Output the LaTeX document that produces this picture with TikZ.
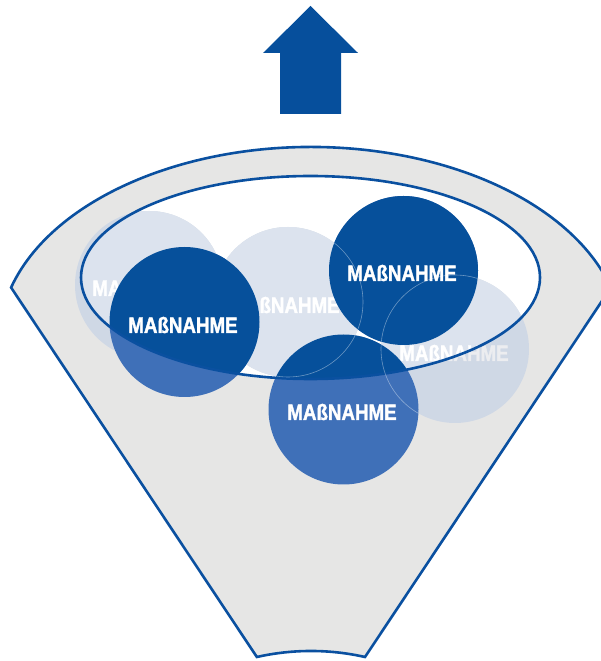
\documentclass[tikz,border=0pt]{standalone}
\usepackage{fontspec}
\newfontfamily\condfont{Liberation Sans}[FakeStretch=0.84,FakeBold=1.6]
\definecolor{fblue}{RGB}{10,80,160}
\definecolor{arrowblue}{RGB}{6,79,156}
\definecolor{funnelgray}{RGB}{230,230,229}
\definecolor{darkin}{RGB}{6,80,155}
\definecolor{darkout}{RGB}{63,112,184}
\definecolor{lightin}{RGB}{220,227,238}
\definecolor{lightout}{RGB}{207,216,229}
\definecolor{lighttext}{RGB}{236,237,240}
\newcommand\circleset[5]{%
  \node[disc, fill=#2, minimum size=148] (c1#5) at (149,376) {};
  \node[lbl, text=#3] (t1#5) at (147,373) {MAßNAHME};
  \node[disc, fill=#2] (c3#5) at (288,359) {};
  \node[lbl, text=#3] (t3#5) at (285,356) {MAßNAHME};
  \node[disc, fill=#2, minimum size=148] (c5#5) at (455,312) {};
  \node[lbl, text=#3] (t5#5) at (454,308) {MAßNAHME};
  \node[disc, fill=#1] (c2#5) at (184.5,339) {};
  \node[lbl, text=#4] (t2#5) at (183,336) {MAßNAHME};
  \node[disc, fill=#1, minimum size=149] (c4#5) at (403.5,390.5) {};
  \node[lbl, text=#4] (t4#5) at (402,388) {MAßNAHME};
  \node[disc, fill=#1] (c6#5) at (343.5,251.5) {};
  \node[lbl, text=#4] (t6#5) at (342,249) {MAßNAHME};
}
\begin{document}
\begin{tikzpicture}[x=1pt,y=1pt,
  disc/.style={circle, minimum size=150, inner sep=0pt, draw=none},
  lbl/.style={text=white, font=\condfont\bfseries\fontsize{22.3}{24}\selectfont, inner sep=0pt},
  outline/.style={draw=fblue, line width=2.6pt},
  faint/.style={draw=white, draw opacity=0.4, line width=0.6pt}]
\clip (0,0) rectangle (601,661);
% arrow
\fill[arrowblue] (263,608) -- (310.5,655) -- (358,608) -- (341,608) -- (341,547) -- (280,547) -- (280,608) -- cycle;
% funnel
\path[fill=funnelgray, outline] (311,320) ++(164:312 and 194)
  arc[start angle=164, end angle=16, x radius=312, y radius=194]
  -- (365,4) arc[start angle=77.3, end angle=102.7, radius=246] -- cycle;
% ellipse fill
\fill[white] (310.5,383.5) ellipse [x radius=229.5, y radius=101.5];
% circles outside colours
\circleset{darkout}{lightout}{lighttext}{white}{o}
% circles inside ellipse
\begin{scope}
  \clip (310.5,383.5) ellipse [x radius=229.5, y radius=101.5];
  \circleset{darkin}{lightin}{white}{white}{i}
\end{scope}
% ellipse stroke
\draw[outline] (310.5,383.5) ellipse [x radius=229.5, y radius=101.5];
% faint outlines of light circles, seen through the front discs
\begin{scope}
  \clip (c4o.center) circle[radius=74.5];
  \draw[faint] (c3o.center) circle[radius=75];
  \draw[faint] (c5o.center) circle[radius=74];
\end{scope}
\begin{scope}
  \clip (c6o.center) circle[radius=75];
  \draw[faint] (c3o.center) circle[radius=75];
  \draw[faint] (c5o.center) circle[radius=74];
\end{scope}
\end{tikzpicture}
\end{document}
